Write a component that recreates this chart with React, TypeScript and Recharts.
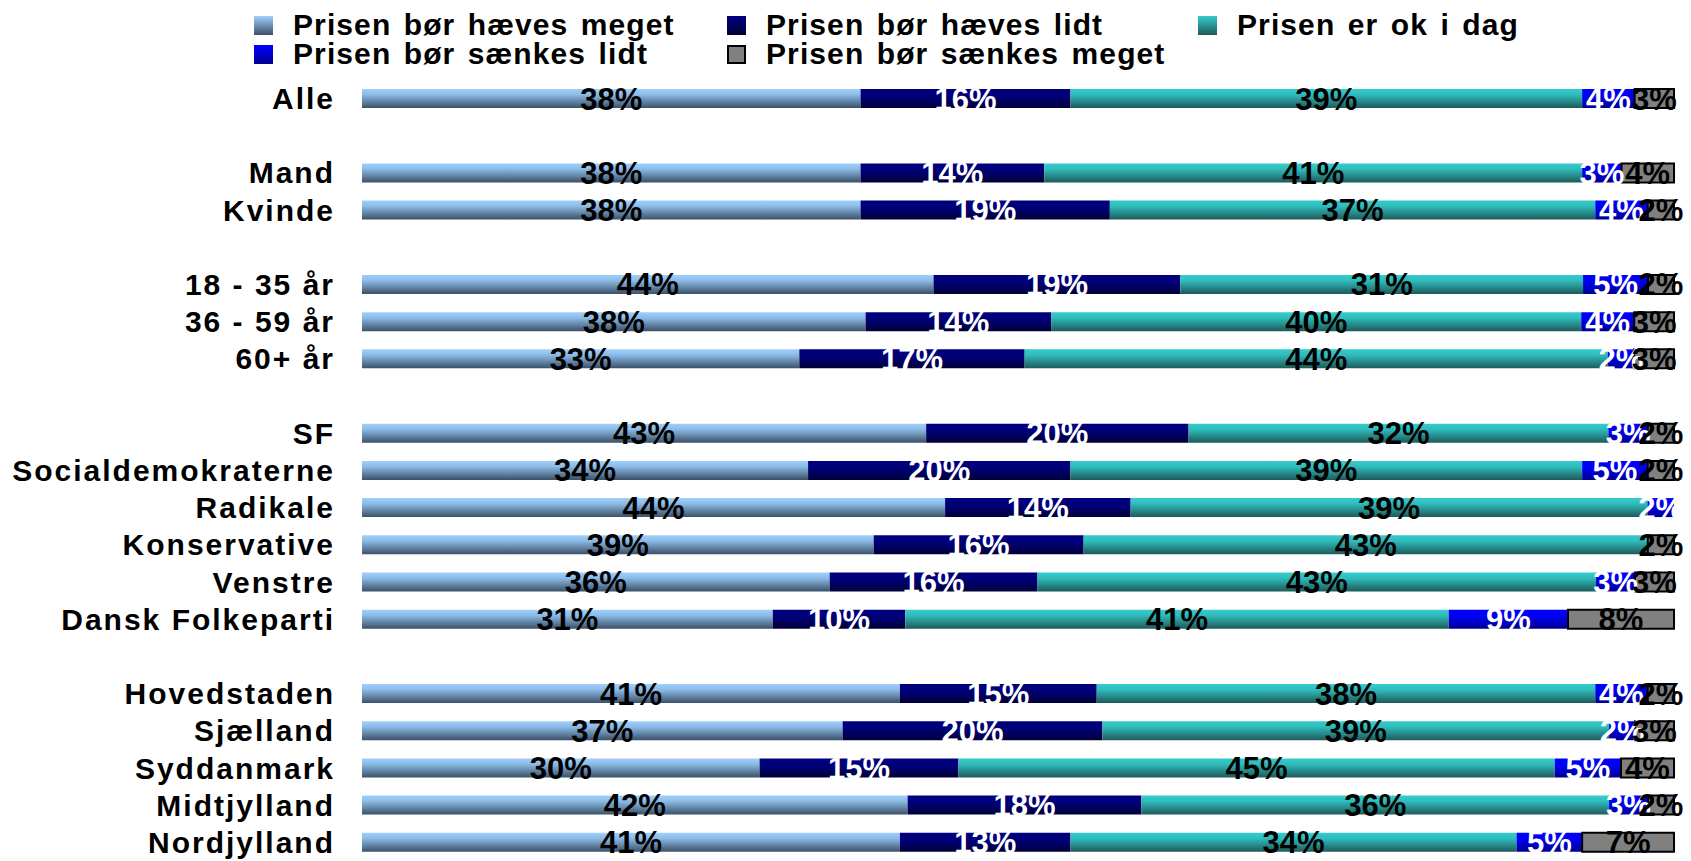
import { BarChart, Bar, XAxis, YAxis, LabelList } from "recharts";

// rows of the survey, "gap" rows are the empty spacer lines
const categories = [
  "Alle", "gap1", "Mand", "Kvinde", "gap2", "18 - 35 år", "36 - 59 år", "60+ år", "gap3",
  "SF", "Socialdemokraterne", "Radikale", "Konservative", "Venstre", "Dansk Folkeparti", "gap4",
  "Hovedstaden", "Sjælland", "Syddanmark", "Midtjylland", "Nordjylland",
];

const haevesMeget = [38, null, 38, 38, null, 44, 38, 33, null, 43, 34, 44, 39, 36, 31, null, 41, 37, 30, 42, 41];
const haevesLidt = [16, null, 14, 19, null, 19, 14, 17, null, 20, 20, 14, 16, 16, 10, null, 15, 20, 15, 18, 13];
const okIDag = [39, null, 41, 37, null, 31, 40, 44, null, 32, 39, 39, 43, 43, 41, null, 38, 39, 45, 36, 34];
const saenkesLidt = [4, null, 3, 4, null, 5, 4, 2, null, 3, 5, 2, null, 3, 9, null, 4, 2, 5, 3, 5];
const saenkesMeget = [3, null, 4, 2, null, 2, 3, 3, null, 2, 2, null, 2, 3, 8, null, 2, 3, 4, 2, 7];

const series = [
  { key: "a", name: "Prisen bør hæves meget", values: haevesMeget, fill: "url(#gA)", text: "#000" },
  { key: "b", name: "Prisen bør hæves lidt", values: haevesLidt, fill: "url(#gB)", text: "#fff" },
  { key: "c", name: "Prisen er ok i dag", values: okIDag, fill: "url(#gC)", text: "#000" },
  { key: "d", name: "Prisen bør sænkes lidt", values: saenkesLidt, fill: "url(#gD)", text: "#fff" },
  { key: "e", name: "Prisen bør sænkes meget", values: saenkesMeget, fill: "#808080", text: "#000" },
];

const data = categories.map((cat, i) => {
  const row: Record<string, any> = { cat };
  series.forEach((s) => (row[s.key] = s.values[i]));
  return row;
});

const FONT = "'Liberation Sans', Arial, Helvetica, sans-serif";

const legendSwatch: Record<string, string> = {
  a: "linear-gradient(#9fd0fb, #3b5068)",
  b: "linear-gradient(#000080, #000038)",
  c: "linear-gradient(#35cccc, #1e5a5a)",
  d: "linear-gradient(#0000ff, #000090)",
  e: "#808080",
};

const legendPos = [
  { left: 254, top: 11 },
  { left: 727, top: 11 },
  { left: 1198, top: 11 },
  { left: 254, top: 40 },
  { left: 727, top: 40 },
];

function LegendBox() {
  return (
    <div style={{ position: "absolute", left: 0, top: 0, width: 1691, height: 70 }}>
      {series.map((s, i) => (
        <div
          key={s.key}
          style={{
            position: "absolute", left: legendPos[i].left, top: legendPos[i].top,
            display: "flex", alignItems: "center", height: 28,
          }}
        >
          <div
            style={{
              width: s.key === "e" ? 15 : 19, height: s.key === "e" ? 15 : 19,
              background: legendSwatch[s.key],
              border: s.key === "e" ? "2px solid #000" : "none",
              marginRight: 20,
            }}
          />
          <span
            style={{
              fontFamily: FONT, fontWeight: "bold", fontSize: 30, letterSpacing: 1.1,
              wordSpacing: 3, color: "#000", whiteSpace: "nowrap", lineHeight: "28px",
            }}
          >
            {s.name}
          </span>
        </div>
      ))}
    </div>
  );
}

const CatTick = (props: any) => {
  const { x, y, payload } = props;
  const v: string = payload.value;
  if (v.startsWith("gap")) return null;
  return (
    <text x={x} y={y} dy={10.5} textAnchor="end" fontFamily={FONT} fontWeight="bold"
      fontSize={30} letterSpacing={2} fill="#000">
      {v}
    </text>
  );
};

const makeLabel = (color: string) => (props: any) => {
  const { x, y, width, height, value } = props;
  if (value == null || !width) return null;
  return (
    <text x={x + width / 2} y={y + height / 2} dy={11} textAnchor="middle"
      fontFamily={FONT} fontWeight="bold" fontSize={31} fill={color}>
      {value}%
    </text>
  );
};

export default function App() {
  return (
    <div style={{ position: "absolute", left: 0, top: 0, width: 1691, height: 861, background: "#fff" }}>
      <LegendBox />
      <BarChart
        width={1691}
        height={861}
        data={data}
        layout="vertical"
        stackOffset="expand"
        barSize={19}
        margin={{ top: 80, right: 17, bottom: 0, left: 0 }}
      >
        <defs>
          <linearGradient id="gA" x1="0" y1="0" x2="0" y2="1">
            <stop offset="0" stopColor="#9fd0fb" />
            <stop offset="0.3" stopColor="#8bbbe6" />
            <stop offset="1" stopColor="#3b5068" />
          </linearGradient>
          <linearGradient id="gB" x1="0" y1="0" x2="0" y2="1">
            <stop offset="0" stopColor="#000080" />
            <stop offset="0.4" stopColor="#000078" />
            <stop offset="1" stopColor="#000038" />
          </linearGradient>
          <linearGradient id="gC" x1="0" y1="0" x2="0" y2="1">
            <stop offset="0" stopColor="#35cccc" />
            <stop offset="0.3" stopColor="#2fbcbc" />
            <stop offset="1" stopColor="#1e5a5a" />
          </linearGradient>
          <linearGradient id="gD" x1="0" y1="0" x2="0" y2="1">
            <stop offset="0" stopColor="#0000ff" />
            <stop offset="0.4" stopColor="#0000ee" />
            <stop offset="1" stopColor="#000090" />
          </linearGradient>
        </defs>
        <XAxis type="number" hide domain={[0, 1]} />
        <YAxis
          type="category"
          dataKey="cat"
          width={362}
          axisLine={false}
          tickLine={false}
          tickSize={0}
          tickMargin={27}
          interval={0}
          tick={<CatTick />}
        />
        {series.map((s) => (
          <Bar
            key={s.key}
            dataKey={s.key}
            name={s.name}
            stackId="x"
            fill={s.fill}
            stroke={s.key === "e" ? "#000" : "none"}
            strokeWidth={s.key === "e" ? 2 : 0}
            isAnimationActive={false}
          >
            <LabelList dataKey={s.key} content={makeLabel(s.text)} />
          </Bar>
        ))}
      </BarChart>
    </div>
  );
}
